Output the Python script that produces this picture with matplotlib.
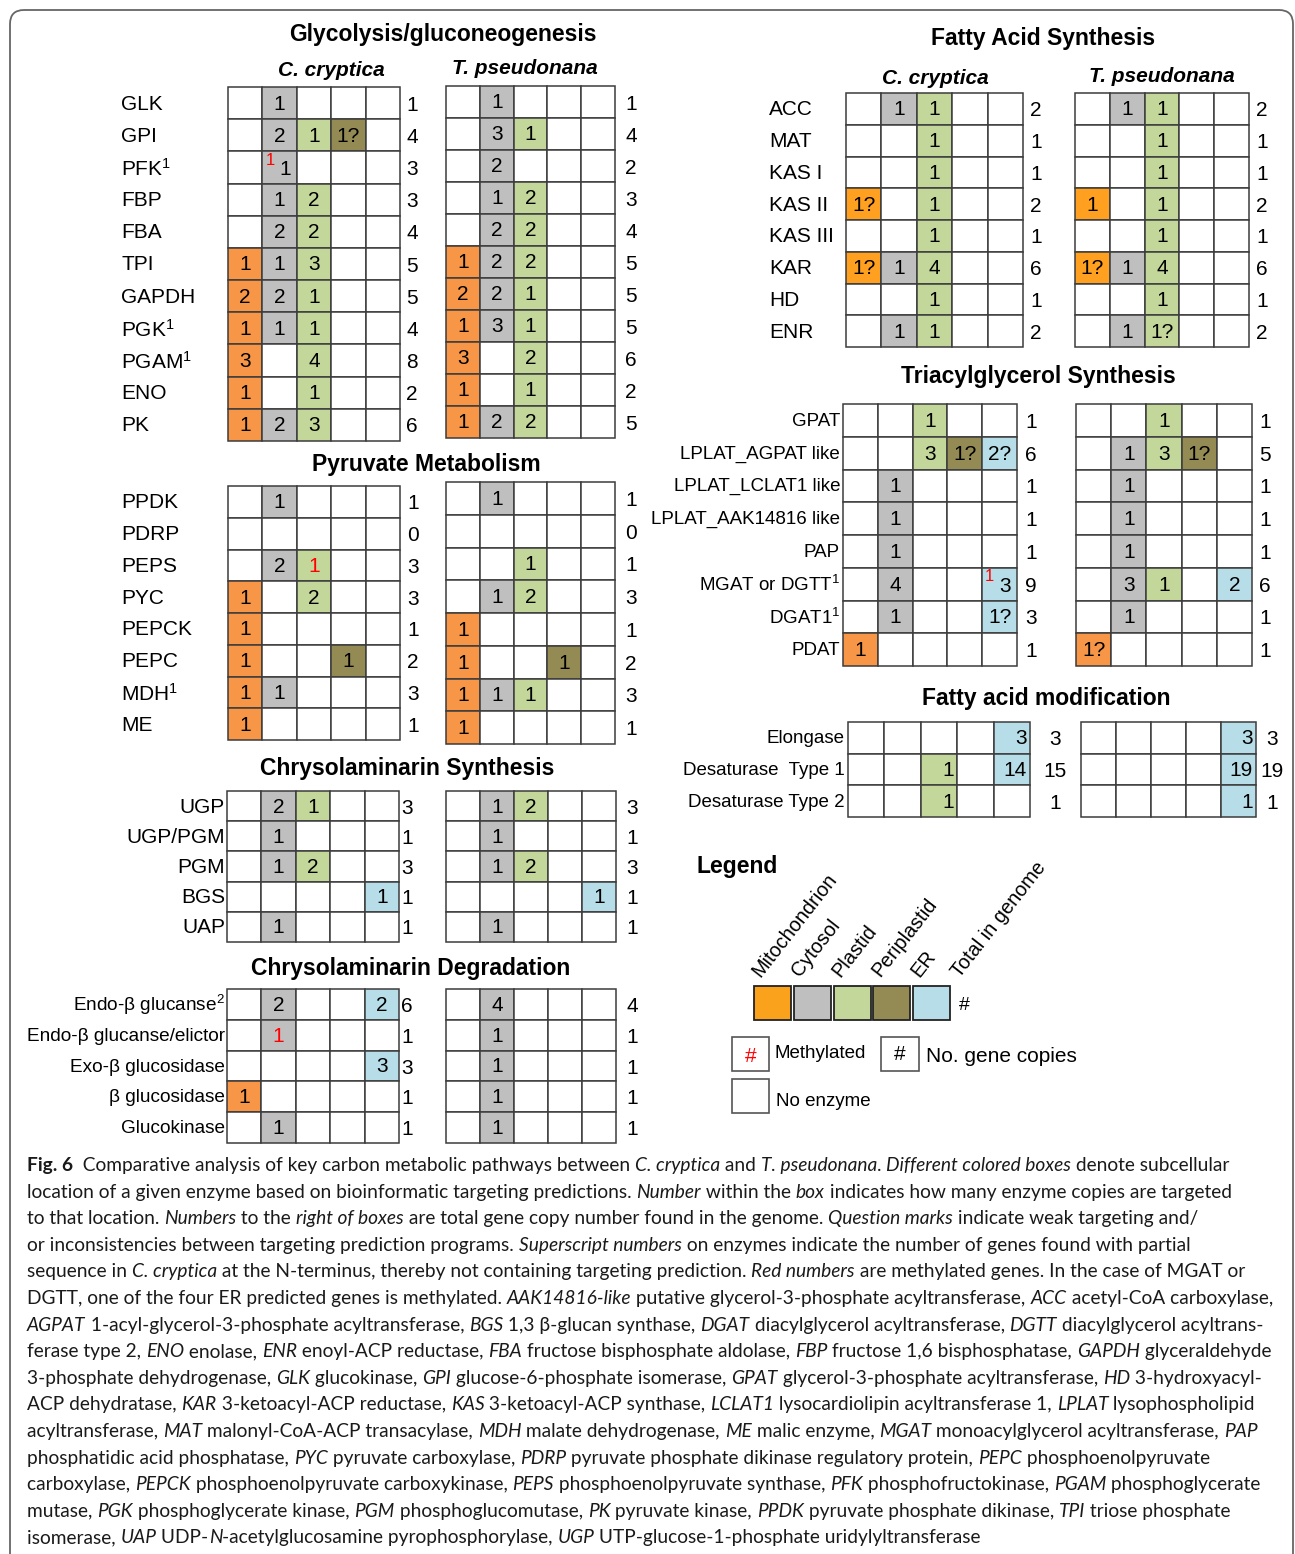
import re
import matplotlib
matplotlib.use("Agg")
import matplotlib.pyplot as plt
from matplotlib.patches import Rectangle, FancyBboxPatch
from matplotlib.font_manager import FontProperties

plt.rcParams['font.family'] = ['Liberation Sans', 'DejaVu Sans']
plt.rcParams['mathtext.fontset'] = 'custom'
plt.rcParams['mathtext.rm'] = 'Liberation Sans'
plt.rcParams['mathtext.it'] = 'Liberation Sans:italic'
plt.rcParams['mathtext.bf'] = 'Liberation Sans:bold'
plt.rcParams['mathtext.default'] = 'regular'

# ---------------------------------------------------------------- data
compartments = ["Mitochondrion", "Cytosol", "Plastid", "Periplastid", "ER"]
species = ["C. cryptica", "T. pseudonana"]
# cell code: "" empty, "r:1" red (methylated) number, "s1:3" red superscript + number

glyco_enz = ["GLK", "GPI", "PFK$^1$", "FBP", "FBA", "TPI", "GAPDH", "PGK$^1$", "PGAM$^1$", "ENO", "PK"]
glyco_cc = [["", "1", "", "", ""], ["", "2", "1", "1?", ""], ["", "s1:1", "", "", ""],
            ["", "1", "2", "", ""], ["", "2", "2", "", ""], ["1", "1", "3", "", ""],
            ["2", "2", "1", "", ""], ["1", "1", "1", "", ""], ["3", "", "4", "", ""],
            ["1", "", "1", "", ""], ["1", "2", "3", "", ""]]
glyco_cc_tot = [1, 4, 3, 3, 4, 5, 5, 4, 8, 2, 6]
glyco_tp = [["", "1", "", "", ""], ["", "3", "1", "", ""], ["", "2", "", "", ""],
            ["", "1", "2", "", ""], ["", "2", "2", "", ""], ["1", "2", "2", "", ""],
            ["2", "2", "1", "", ""], ["1", "3", "1", "", ""], ["3", "", "2", "", ""],
            ["1", "", "1", "", ""], ["1", "2", "2", "", ""]]
glyco_tp_tot = [1, 4, 2, 3, 4, 5, 5, 5, 6, 2, 5]

pyr_enz = ["PPDK", "PDRP", "PEPS", "PYC", "PEPCK", "PEPC", "MDH$^1$", "ME"]
pyr_cc = [["", "1", "", "", ""], ["", "", "", "", ""], ["", "2", "r:1", "", ""],
          ["1", "", "2", "", ""], ["1", "", "", "", ""], ["1", "", "", "1", ""],
          ["1", "1", "", "", ""], ["1", "", "", "", ""]]
pyr_cc_tot = [1, 0, 3, 3, 1, 2, 3, 1]
pyr_tp = [["", "1", "", "", ""], ["", "", "", "", ""], ["", "", "1", "", ""],
          ["", "1", "2", "", ""], ["1", "", "", "", ""], ["1", "", "", "1", ""],
          ["1", "1", "1", "", ""], ["1", "", "", "", ""]]
pyr_tp_tot = [1, 0, 1, 3, 1, 2, 3, 1]

csyn_enz = ["UGP", "UGP/PGM", "PGM", "BGS", "UAP"]
csyn_cc = [["", "2", "1", "", ""], ["", "1", "", "", ""], ["", "1", "2", "", ""],
           ["", "", "", "", "1"], ["", "1", "", "", ""]]
csyn_cc_tot = [3, 1, 3, 1, 1]
csyn_tp = [["", "1", "2", "", ""], ["", "1", "", "", ""], ["", "1", "2", "", ""],
           ["", "", "", "", "1"], ["", "1", "", "", ""]]
csyn_tp_tot = [3, 1, 3, 1, 1]

cdeg_enz = ["Endo-β glucanse$^2$", "Endo-β glucanse/elictor", "Exo-β glucosidase",
            "β glucosidase", "Glucokinase"]
cdeg_cc = [["", "2", "", "", "2"], ["", "r:1", "", "", ""], ["", "", "", "", "3"],
           ["1", "", "", "", ""], ["", "1", "", "", ""]]
cdeg_cc_tot = [6, 1, 3, 1, 1]
cdeg_tp = [["", "4", "", "", ""], ["", "1", "", "", ""], ["", "1", "", "", ""],
           ["", "1", "", "", ""], ["", "1", "", "", ""]]
cdeg_tp_tot = [4, 1, 1, 1, 1]

fas_enz = ["ACC", "MAT", "KAS I", "KAS II", "KAS III", "KAR", "HD", "ENR"]
fas_cc = [["", "1", "1", "", ""], ["", "", "1", "", ""], ["", "", "1", "", ""],
          ["1?", "", "1", "", ""], ["", "", "1", "", ""], ["1?", "1", "4", "", ""],
          ["", "", "1", "", ""], ["", "1", "1", "", ""]]
fas_cc_tot = [2, 1, 1, 2, 1, 6, 1, 2]
fas_tp = [["", "1", "1", "", ""], ["", "", "1", "", ""], ["", "", "1", "", ""],
          ["1", "", "1", "", ""], ["", "", "1", "", ""], ["1?", "1", "4", "", ""],
          ["", "", "1", "", ""], ["", "1", "1?", "", ""]]
fas_tp_tot = [2, 1, 1, 2, 1, 6, 1, 2]

tag_enz = ["GPAT", "LPLAT_AGPAT like", "LPLAT_LCLAT1 like", "LPLAT_AAK14816 like", "PAP",
           "MGAT or DGTT$^1$", "DGAT1$^1$", "PDAT"]
tag_cc = [["", "", "1", "", ""], ["", "", "3", "1?", "2?"], ["", "1", "", "", ""],
          ["", "1", "", "", ""], ["", "1", "", "", ""], ["", "4", "", "", "s1:3"],
          ["", "1", "", "", "1?"], ["1", "", "", "", ""]]
tag_cc_tot = [1, 6, 1, 1, 1, 9, 3, 1]
tag_tp = [["", "", "1", "", ""], ["", "1", "3", "1?", ""], ["", "1", "", "", ""],
          ["", "1", "", "", ""], ["", "1", "", "", ""], ["", "3", "1", "", "2"],
          ["", "1", "", "", ""], ["1?", "", "", "", ""]]
tag_tp_tot = [1, 5, 1, 1, 1, 6, 1, 1]

fam_enz = ["Elongase", "Desaturase  Type 1", "Desaturase Type 2"]
fam_cc = [["", "", "", "", "3"], ["", "", "1", "", "14"], ["", "", "1", "", ""]]
fam_cc_tot = [3, 15, 1]
fam_tp = [["", "", "", "", "3"], ["", "", "", "", "19"], ["", "", "", "", "1"]]
fam_tp_tot = [3, 19, 1]

legend_extra = "Total in genome"

caption_lines = [
    "**Fig. 6**  Comparative analysis of key carbon metabolic pathways between *C. cryptica* and *T. pseudonana*. *Different colored boxes* denote subcellular",
    "location of a given enzyme based on bioinformatic targeting predictions. *Number* within the *box* indicates how many enzyme copies are targeted",
    "to that location. *Numbers* to the *right of boxes* are total gene copy number found in the genome. *Question marks* indicate weak targeting and/",
    "or inconsistencies between targeting prediction programs. *Superscript numbers* on enzymes indicate the number of genes found with partial",
    "sequence in *C. cryptica* at the N-terminus, thereby not containing targeting prediction. *Red numbers* are methylated genes. In the case of MGAT or",
    "DGTT, one of the four ER predicted genes is methylated. *AAK14816-like* putative glycerol-3-phosphate acyltransferase, *ACC* acetyl-CoA carboxylase,",
    "*AGPAT* 1-acyl-glycerol-3-phosphate acyltransferase, *BGS* 1,3 β-glucan synthase, *DGAT* diacylglycerol acyltransferase, *DGTT* diacylglycerol acyltrans-",
    "ferase type 2, *ENO* enolase, *ENR* enoyl-ACP reductase, *FBA* fructose bisphosphate aldolase, *FBP* fructose 1,6 bisphosphatase, *GAPDH* glyceraldehyde",
    "3-phosphate dehydrogenase, *GLK* glucokinase, *GPI* glucose-6-phosphate isomerase, *GPAT* glycerol-3-phosphate acyltransferase, *HD* 3-hydroxyacyl-",
    "ACP dehydratase, *KAR* 3-ketoacyl-ACP reductase, *KAS* 3-ketoacyl-ACP synthase, *LCLAT1* lysocardiolipin acyltransferase 1, *LPLAT* lysophospholipid",
    "acyltransferase, *MAT* malonyl-CoA-ACP transacylase, *MDH* malate dehydrogenase, *ME* malic enzyme, *MGAT* monoacylglycerol acyltransferase, *PAP*",
    "phosphatidic acid phosphatase, *PYC* pyruvate carboxylase, *PDRP* pyruvate phosphate dikinase regulatory protein, *PEPC* phosphoenolpyruvate",
    "carboxylase, *PEPCK* phosphoenolpyruvate carboxykinase, *PEPS* phosphoenolpyruvate synthase, *PFK* phosphofructokinase, *PGAM* phosphoglycerate",
    "mutase, *PGK* phosphoglycerate kinase, *PGM* phosphoglucomutase, *PK* pyruvate kinase, *PPDK* pyruvate phosphate dikinase, *TPI* triose phosphate",
    "isomerase, *UAP* UDP-*N*-acetylglucosamine pyrophosphorylase, *UGP* UTP-glucose-1-phosphate uridylyltransferase",
]

# ---------------------------------------------------------------- style
COL = {"Mitochondrion": "#F79646", "Cytosol": "#BFBFBF", "Plastid": "#C4D79B",
       "Periplastid": "#948A54", "ER": "#B7DEE8"}
ORANGE_FA = "#FFA020"
GRID = "#3c3c3c"

W, H = 1295, 1554
fig = plt.figure(figsize=(W / 100, H / 100), dpi=100)
ax = fig.add_axes([0, 0, 1, 1])
ax.set_xlim(0, W)
ax.set_ylim(H, 0)
ax.axis("off")

ax.add_patch(FancyBboxPatch((10, 10), 1283, 1600, boxstyle="round,pad=0,rounding_size=14",
                            fc="none", ec="#666666", lw=1.3))


def draw_grid(box, cells, totals, tot_x, size=15, orange=None, align="center"):
    x0, x1, y0, y1 = box
    nr, nc = len(cells), len(compartments)
    cw, rh = (x1 - x0) / nc, (y1 - y0) / nr
    for i, row in enumerate(cells):
        cy = y0 + (i + 0.5) * rh
        for j, v in enumerate(row):
            fc = "white"
            if v:
                fc = COL[compartments[j]]
                if j == 0 and orange:
                    fc = orange
            ax.add_patch(Rectangle((x0 + j * cw, y0 + i * rh), cw, rh, fc=fc,
                                   ec=GRID, lw=1.1, zorder=2))
            if not v:
                continue
            cx = x0 + (j + 0.5) * cw
            if v.startswith("r:"):
                ax.text(cx, cy + 1, v[2:], ha="center", va="center", size=size,
                        color="red", zorder=4)
            elif v.startswith("s"):
                sup, val = v[1:].split(":")
                ax.text(cx - 0.28 * cw, cy - 0.22 * rh, sup, ha="center", va="center",
                        size=size * 0.8, color="red", zorder=4)
                ax.text(cx + 0.15 * cw, cy + 2, val, ha="center", va="center",
                        size=size, zorder=4)
            elif align == "right":
                ax.text(x0 + (j + 1) * cw - 3, cy + 1, v, ha="right", va="center",
                        size=size, zorder=4)
            else:
                ax.text(cx, cy + 1, v, ha="center", va="center", size=size, zorder=4)
        ax.text(tot_x, cy + 2, str(totals[i]), ha="center", va="center", size=size)
    return rh


def draw_labels(box, labels, x, ha, size=15):
    y0, y1 = box[2], box[3]
    rh = (y1 - y0) / len(labels)
    for i, lab in enumerate(labels):
        ax.text(x, y0 + (i + 0.5) * rh + 1, lab, ha=ha, va="center", size=size)


def title(x, y, s, size=16.5):
    ax.text(x, y, s, ha="center", va="center", size=size, weight="bold")


def sp_header(x, y, s):
    ax.text(x, y, s, ha="center", va="center", size=15, weight="bold", style="italic")


# Glycolysis
title(443, 34, "Glycolysis/gluconeogenesis")
sp_header(331, 70, species[0])
sp_header(525, 69, species[1])
draw_labels((228, 400, 87, 441), glyco_enz, 121, "left")
draw_grid((228, 400, 87, 441), glyco_cc, glyco_cc_tot, 412)
draw_grid((446, 615, 86, 438), glyco_tp, glyco_tp_tot, 631)

# Pyruvate
title(426, 464, "Pyruvate Metabolism")
draw_labels((228, 400, 486, 740), pyr_enz, 121, "left")
draw_grid((228, 400, 486, 740), pyr_cc, pyr_cc_tot, 413)
draw_grid((446, 615, 482, 744), pyr_tp, pyr_tp_tot, 631)

# Chrysolaminarin synthesis
title(407, 768, "Chrysolaminarin Synthesis")
draw_labels((227, 399, 791, 942), csyn_enz, 225, "right")
draw_grid((227, 399, 791, 942), csyn_cc, csyn_cc_tot, 407)
draw_grid((446, 616, 791, 942), csyn_tp, csyn_tp_tot, 632)

# Chrysolaminarin degradation
title(411, 968, "Chrysolaminarin Degradation")
draw_labels((227, 399, 989, 1143), cdeg_enz, 225, "right", size=13.7)
draw_grid((227, 399, 989, 1143), cdeg_cc, cdeg_cc_tot, 407)
draw_grid((446, 616, 989, 1143), cdeg_tp, cdeg_tp_tot, 632)

# Fatty acid synthesis
title(1043, 39, "Fatty Acid Synthesis")
sp_header(935, 78, species[0])
sp_header(1162, 77, species[1])
draw_labels((846, 1023, 93, 347), fas_enz, 769, "left")
draw_grid((846, 1023, 93, 347), fas_cc, fas_cc_tot, 1036, orange=ORANGE_FA)
draw_grid((1075, 1249, 93, 347), fas_tp, fas_tp_tot, 1262, orange=ORANGE_FA)

# TAG synthesis
title(1038, 377, "Triacylglycerol Synthesis")
draw_labels((843, 1017, 404, 666), tag_enz, 840, "right", size=13.5)
draw_grid((843, 1017, 404, 666), tag_cc, tag_cc_tot, 1031)
draw_grid((1076, 1252, 404, 666), tag_tp, tag_tp_tot, 1265)

# Fatty acid modification
title(1046, 699, "Fatty acid modification")
draw_labels((848, 1030, 722, 817), fam_enz, 845, "right", size=13.5)
draw_grid((848, 1030, 722, 817), fam_cc, fam_cc_tot, 1055, align="right")
draw_grid((1081, 1256, 722, 817), fam_tp, fam_tp_tot, 1272, align="right")

# Legend
ax.text(696, 866, "Legend", ha="left", va="center", size=16.5, weight="bold")
lx0, lbw, lgap, ly0, lh = 754, 37, 2.8, 986, 34
for k, comp in enumerate(compartments):
    bx = lx0 + k * (lbw + lgap)
    fc = "#FAA21B" if k == 0 else COL[comp]
    ax.add_patch(Rectangle((bx, ly0), lbw, lh, fc=fc, ec="#222222", lw=1.3))
    ax.text(bx + lbw / 2 - 9, ly0 - 6, comp, rotation=52, rotation_mode="anchor",
            ha="left", va="bottom", size=14.3)
bx = lx0 + len(compartments) * (lbw + lgap)
ax.text(bx + 10, ly0 - 5, legend_extra, rotation=52, rotation_mode="anchor",
        ha="left", va="bottom", size=14.3)
ax.text(bx + 11, ly0 + lh / 2 + 2, "#", ha="center", va="center", size=14)

ax.add_patch(Rectangle((732, 1037), 37, 34, fc="white", ec="#555555", lw=1.2))
ax.text(750.5, 1056, "#", ha="center", va="center", size=15, color="red")
ax.text(775, 1053, "Methylated", ha="left", va="center", size=13.5)
ax.add_patch(Rectangle((881, 1037), 38, 34, fc="white", ec="#555555", lw=1.2))
ax.text(900, 1055, "#", ha="center", va="center", size=15)
ax.text(926, 1056, "No. gene copies", ha="left", va="center", size=15)
ax.add_patch(Rectangle((732, 1079), 37, 34, fc="white", ec="#555555", lw=1.2))
ax.text(776, 1102, "No enzyme", ha="left", va="center", size=13.5)

# ---------------------------------------------------------------- caption
renderer = fig.canvas.get_renderer()
CAP_FONT = ["Lato", "DejaVu Sans"]


def fp(size, style):
    return FontProperties(family=CAP_FONT, size=size,
                          style="italic" if style == "i" else "normal",
                          weight="bold" if style == "b" else "normal")


def parse(line):
    segs = []
    for part in re.split(r"(\*\*.+?\*\*|\*.+?\*)", line):
        if not part:
            continue
        if part.startswith("**"):
            segs.append((part[2:-2], "b"))
        elif part.startswith("*"):
            segs.append((part[1:-1], "i"))
        else:
            segs.append((part, "n"))
    return segs


def width(s, prop):
    w1, _, _ = renderer.get_text_width_height_descent("|" + s + "|", prop, ismath=False)
    w0, _, _ = renderer.get_text_width_height_descent("||", prop, ismath=False)
    return w1 - w0


ref = parse(caption_lines[12])
wref = sum(width(s, fp(10, st)) for s, st in ref)
cap_size = 10 * 1240 / wref

for k, line in enumerate(caption_lines):
    x = 27
    yb = 1171 + k * 26.6
    for s, st in parse(line):
        ax.text(x, yb, s, ha="left", va="baseline", fontproperties=fp(cap_size, st),
                color="#1a1a1a")
        x += width(s, fp(cap_size, st))

fig.savefig("out.png", dpi=100)
